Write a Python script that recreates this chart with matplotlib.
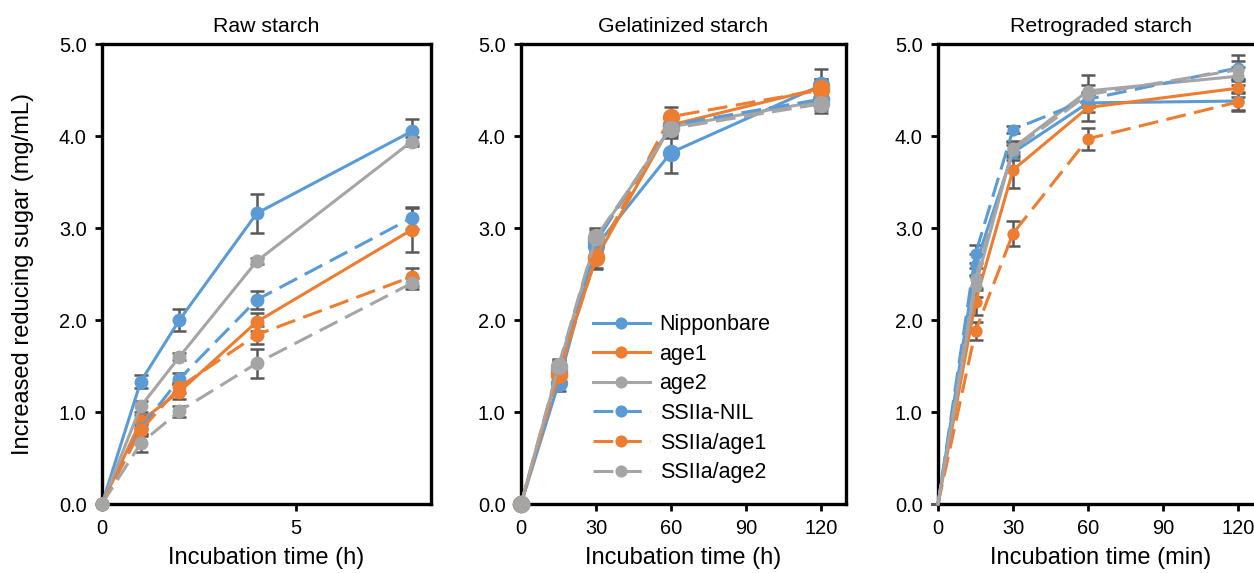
import numpy as np
import matplotlib
matplotlib.use("Agg")
import matplotlib.pyplot as plt

plt.rcParams["font.family"] = ["Liberation Sans", "DejaVu Sans"]

# ---- data ----
lines_names = ["Nipponbare", "age1", "age2", "SSIIa-NIL", "SSIIa/age1", "SSIIa/age2"]
colors = ["#5B9BD5", "#ED7D31", "#A5A5A5", "#5B9BD5", "#ED7D31", "#A5A5A5"]
dashed = [False, False, False, True, True, True]

raw_time = [0, 1, 2, 4, 8]
raw_mean = [
    [0.0, 1.33, 2.00, 3.16, 4.05],
    [0.0, 0.90, 1.22, 1.98, 2.98],
    [0.0, 1.06, 1.60, 2.64, 3.94],
    [0.0, 0.82, 1.36, 2.22, 3.11],
    [0.0, 0.80, 1.27, 1.84, 2.47],
    [0.0, 0.66, 1.01, 1.53, 2.40],
]
raw_err = [
    [0.0, 0.07, 0.12, 0.21, 0.14],
    [0.0, 0.07, 0.08, 0.10, 0.24],
    [0.0, 0.06, 0.04, 0.03, 0.05],
    [0.0, 0.06, 0.06, 0.10, 0.12],
    [0.0, 0.06, 0.06, 0.10, 0.10],
    [0.0, 0.10, 0.06, 0.16, 0.06],
]

gel_time = [0, 15, 30, 60, 120]
gel_mean = [
    [0.0, 1.31, 2.80, 3.82, 4.55],
    [0.0, 1.45, 2.67, 4.12, 4.52],
    [0.0, 1.48, 2.88, 4.10, 4.38],
    [0.0, 1.42, 2.85, 4.12, 4.40],
    [0.0, 1.40, 2.69, 4.21, 4.50],
    [0.0, 1.50, 2.90, 4.08, 4.35],
]
gel_err = [
    [0.0, 0.08, 0.10, 0.22, 0.18],
    [0.0, 0.10, 0.12, 0.12, 0.10],
    [0.0, 0.08, 0.10, 0.08, 0.10],
    [0.0, 0.08, 0.10, 0.10, 0.08],
    [0.0, 0.10, 0.12, 0.10, 0.12],
    [0.0, 0.08, 0.10, 0.10, 0.10],
]

ret_time = [0, 15, 30, 60, 120]
ret_mean = [
    [0.0, 2.60, 3.82, 4.36, 4.38],
    [0.0, 2.20, 3.63, 4.31, 4.52],
    [0.0, 2.37, 3.87, 4.49, 4.65],
    [0.0, 2.72, 4.07, 4.40, 4.74],
    [0.0, 1.88, 2.94, 3.97, 4.37],
    [0.0, 2.45, 3.85, 4.45, 4.72],
]
ret_err = [
    [0.0, 0.12, 0.08, 0.10, 0.10],
    [0.0, 0.15, 0.20, 0.15, 0.10],
    [0.0, 0.12, 0.08, 0.17, 0.10],
    [0.0, 0.10, 0.04, 0.08, 0.14],
    [0.0, 0.10, 0.14, 0.12, 0.10],
    [0.0, 0.12, 0.08, 0.10, 0.10],
]

panels = [
    ("Raw starch", "Incubation time (h)", raw_time, raw_mean, raw_err, 8.5, [0, 5], 10),
    ("Gelatinized starch", "Incubation time (h)", gel_time, gel_mean, gel_err, 130,
     [0, 30, 60, 90, 120], 12.5),
    ("Retrograded starch", "Incubation time (min)", ret_time, ret_mean, ret_err, 130,
     [0, 30, 60, 90, 120], 8.8),
]

W, H = 1254, 573
fig = plt.figure(figsize=(W / 100, H / 100), dpi=100)
lefts = [102, 521, 938]
widths = [329, 325, 325]
top, bottom = 44, 504

axes = []
for i, (title, xlabel, t, means, errs, xmax, xticks, msize) in enumerate(panels):
    ax = fig.add_axes([lefts[i] / W, 1 - bottom / H, widths[i] / W, (bottom - top) / H])
    axes.append(ax)
    for k in range(len(lines_names)):
        ax.errorbar(t, means[k], yerr=errs[k], fmt="none", ecolor="#595959",
                    elinewidth=1.8, capsize=5, capthick=1.8, zorder=2, clip_on=False)
        ax.plot(t, means[k], color=colors[k], lw=2.2,
                linestyle=(0, (6.5, 2.8)) if dashed[k] else "-",
                marker="o", markersize=msize, markeredgewidth=0,
                markevery=slice(1, None) if i == 2 else None,
                label=lines_names[k], zorder=3, clip_on=False)
    ax.set_xlim(0, xmax)
    ax.set_ylim(0, 5)
    ax.set_xticks(xticks)
    ax.set_yticks(np.arange(0, 5.01, 1.0))
    ax.set_yticklabels([f"{v:.1f}" for v in np.arange(0, 5.01, 1.0)])
    ax.tick_params(direction="out", length=5, width=2, labelsize=14.4, pad=6)
    for s in ax.spines.values():
        s.set_linewidth(2.4)
        s.set_color("black")
    ax.set_title(title, fontsize=15.3, pad=8.5)
    ax.set_xlabel(xlabel, fontsize=17, labelpad=6)

axes[0].set_ylabel("Increased reducing sugar (mg/mL)", fontsize=17, labelpad=18)

axes[1].legend(loc="lower left", bbox_to_anchor=(0.188, 0.022), frameon=False,
               borderpad=0, fontsize=15.5, handlelength=2.65, labelspacing=0.40,
               handletextpad=0.45, markerscale=0.7)

fig.savefig("out.png", dpi=100)
